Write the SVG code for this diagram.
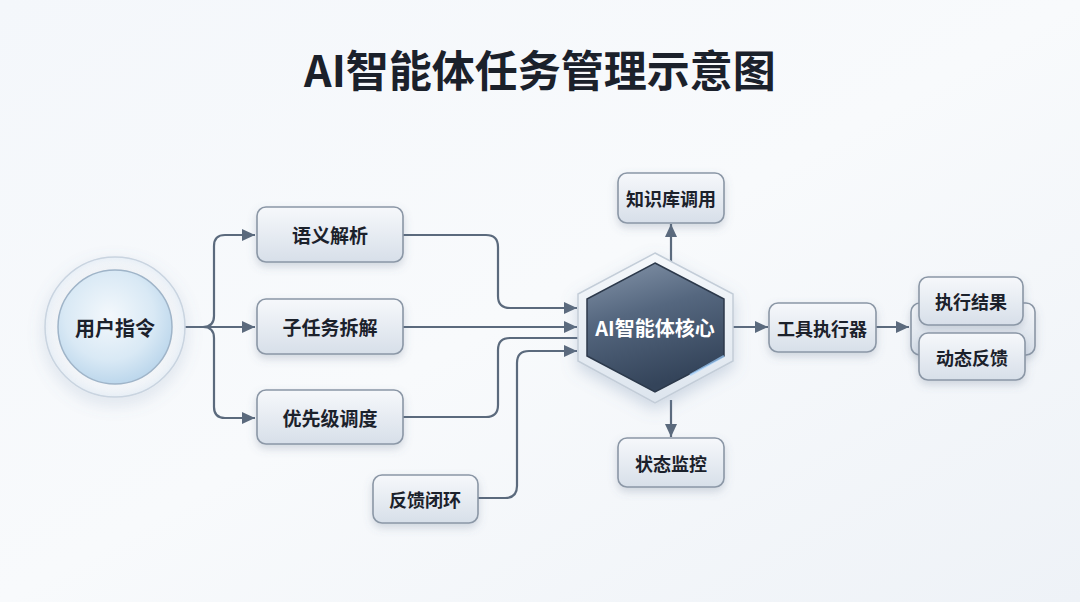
<svg xmlns="http://www.w3.org/2000/svg" width="1080" height="602" viewBox="0 0 1080 602">
<defs>
<style>
.t{font-family:"Noto Sans CJK SC","Noto Sans",sans-serif;font-weight:700;fill:#1b212b;text-anchor:middle;dominant-baseline:central}
.box{fill:url(#boxg);stroke:#8b97a6;stroke-width:1.6;filter:url(#sh)}
.ln{fill:none;stroke:#5b6a7d;stroke-width:2.2}
.ar{marker-end:url(#arr)}
</style>
<linearGradient id="bg" x1="0" y1="0" x2="1" y2="1">
<stop offset="0" stop-color="#f4f7fb"/><stop offset="0.5" stop-color="#f8fafc"/><stop offset="1" stop-color="#eef2f7"/>
</linearGradient>
<linearGradient id="boxg" x1="0" y1="0" x2="0" y2="1">
<stop offset="0" stop-color="#f6f8fb"/><stop offset="1" stop-color="#d7dfe9"/>
</linearGradient>
<radialGradient id="circg" cx="0.45" cy="0.4" r="0.65">
<stop offset="0" stop-color="#f3f8fc"/><stop offset="0.6" stop-color="#d9e9f5"/><stop offset="1" stop-color="#b6d3ea"/>
</radialGradient>
<radialGradient id="ringg" cx="0.5" cy="0.5" r="0.5">
<stop offset="0.8" stop-color="#ffffff" stop-opacity="0.2"/><stop offset="1" stop-color="#e6eef6" stop-opacity="0.9"/>
</radialGradient>
<linearGradient id="hexg" x1="0" y1="0" x2="0.3" y2="1">
<stop offset="0" stop-color="#8595aa"/><stop offset="0.45" stop-color="#55677f"/><stop offset="1" stop-color="#34445a"/>
</linearGradient>
<linearGradient id="hexo" x1="0" y1="0" x2="0" y2="1">
<stop offset="0" stop-color="#f5f8fb"/><stop offset="1" stop-color="#dde5ee"/>
</linearGradient>
<filter id="sh" x="-20%" y="-20%" width="140%" height="160%">
<feDropShadow dx="0" dy="4" stdDeviation="4" flood-color="#5a6e8a" flood-opacity="0.25"/>
</filter>
<filter id="glow" x="-30%" y="-30%" width="160%" height="160%">
<feDropShadow dx="0" dy="6" stdDeviation="8" flood-color="#6a85a8" flood-opacity="0.3"/>
</filter>
<marker id="arr" markerUnits="userSpaceOnUse" markerWidth="14" markerHeight="12" refX="13" refY="6" orient="auto">
<path d="M0,0 L13,6 L0,12 z" fill="#5b6a7d"/>
</marker>
</defs>
<rect width="1080" height="602" fill="url(#bg)"/>
<text class="t" x="540" y="68" font-size="43" fill="#1b232e">AI智能体任务管理示意图</text>

<g id="connectors">
<path class="ln ar" d="M184,327 H255"/>
<path class="ln ar" d="M203,327 Q214,327 214,316 V246 Q214,235 225,235 H255"/>
<path class="ln ar" d="M203,327 Q214,327 214,338 V407 Q214,418 225,418 H255"/>
<path class="ln ar" d="M403,235 H486 Q498,235 498,247 V296 Q498,308 510,308 H577"/>
<path class="ln ar" d="M403,327 H577"/>
<path class="ln" d="M403,417 H486 Q498,417 498,405 V350 Q498,338 510,338 H582"/>
<path class="ln ar" d="M478,498 H505 Q517,498 517,486 V363 Q517,351 529,351 H577"/>
<path class="ln ar" d="M671,262 V224"/>
<path class="ln ar" d="M671,400 V437"/>
<path class="ln ar" d="M733,327 H768"/>
<path class="ln ar" d="M876,327 H909"/>
</g>

<g id="user">
<circle cx="115" cy="327" r="70" fill="url(#ringg)" stroke="#c9d4e0" stroke-width="1.5" filter="url(#glow)"/>
<circle cx="115" cy="327" r="57" fill="url(#circg)" stroke="#9fb4c8" stroke-width="1.5"/>
<text class="t" x="115" y="327" font-size="20">用户指令</text>
</g>

<g id="semantic">
<rect class="box" x="257" y="207" width="146" height="55" rx="9"/>
<text class="t" x="330" y="234" font-size="19">语义解析</text>
</g>
<g id="subtask">
<rect class="box" x="257" y="299" width="146" height="55" rx="9"/>
<text class="t" x="330" y="326" font-size="19">子任务拆解</text>
</g>
<g id="priority">
<rect class="box" x="257" y="390" width="146" height="54" rx="9"/>
<text class="t" x="330" y="417" font-size="19">优先级调度</text>
</g>
<g id="feedback-loop">
<rect class="box" x="373" y="475" width="105" height="48" rx="9"/>
<text class="t" x="425" y="499" font-size="18">反馈闭环</text>
</g>

<g id="core">
<polygon points="655,253 733,294 733,361 655,403 578,361 578,294" fill="url(#hexo)" stroke="#c3cdd8" stroke-width="1.5" filter="url(#glow)"/>
<polygon points="655,263 724,299 724,356 655,392 587,356 587,299" fill="url(#hexg)" stroke="#2c394b" stroke-width="1.5"/>
<path d="M690,375 L724,356" stroke="#9fd0ff" stroke-width="2.5" opacity="0.7" fill="none"/>
<text class="t" x="655" y="327" font-size="20" style="fill:#ffffff">AI智能体核心</text>
</g>

<g id="knowledge">
<rect class="box" x="618" y="173" width="106" height="50" rx="9"/>
<text class="t" x="671" y="198" font-size="18">知识库调用</text>
</g>
<g id="monitor">
<rect class="box" x="618" y="438" width="106" height="49" rx="9"/>
<text class="t" x="671" y="463" font-size="18">状态监控</text>
</g>
<g id="tool">
<rect class="box" x="769" y="303" width="107" height="49" rx="9"/>
<text class="t" x="822" y="328" font-size="18">工具执行器</text>
</g>
<g id="results">
<rect class="box" x="911" y="303" width="124" height="52" rx="9"/>
<rect class="box" x="919" y="277" width="104" height="48" rx="9"/>
<text class="t" x="971" y="301" font-size="18">执行结果</text>
<rect class="box" x="919" y="333" width="106" height="47" rx="9"/>
<text class="t" x="972" y="357" font-size="18">动态反馈</text>
</g>
</svg>
